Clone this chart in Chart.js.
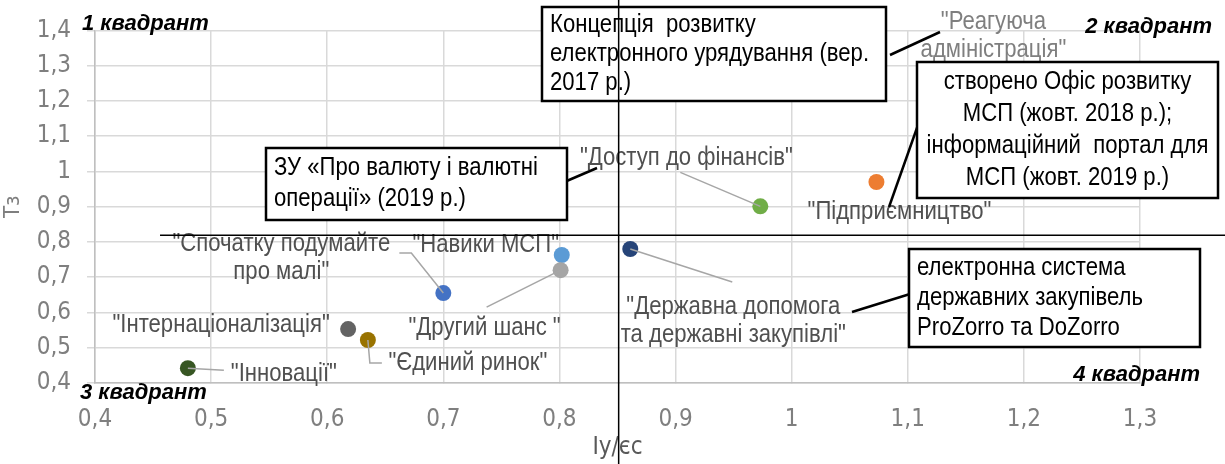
<!DOCTYPE html>
<html>
<head>
<meta charset="utf-8">
<script src="https://cdn.jsdelivr.net/npm/chart.js@4/dist/chart.umd.min.js"></script>
<style>
    body { margin: 0; background: #fff; }
    #wrap { width: 1225px; height: 464px; position: relative; }
</style>
</head>
<body>
<div id="wrap"><canvas id="quadChart"></canvas></div>
<script>
// Дані
const labels = [
    ['"Реагуюча', 'адміністрація"'],
    ['"Підприємництво"'],
    ['"Доступ до фінансів"'],
    ['"Державна допомога', 'та державні закупівлі"'],
    ['"Навики МСП"'],
    ['"Другий шанс "'],
    ['"Спочатку подумайте', 'про малі"'],
    ['"Інтернаціоналізація"'],
    ['"Єдиний ринок"'],
    ['"Інновації"']
];
const iyValues = [1.222, 1.073, 0.973, 0.861, 0.802, 0.801, 0.700, 0.618, 0.635, 0.480];
const tzValues = [1.272, 0.970, 0.901, 0.780, 0.763, 0.720, 0.655, 0.553, 0.522, 0.442];
const pointColors = ['#9e480e', '#ed7d31', '#70ad47', '#264478', '#5b9bd5', '#a5a5a5', '#4472c4', '#636363', '#997300', '#375623'];

const xTicks = [0.4, 0.5, 0.6, 0.7, 0.8, 0.9, 1.0, 1.1, 1.2, 1.3];
const yTicks = [0.4, 0.5, 0.6, 0.7, 0.8, 0.9, 1.0, 1.1, 1.2, 1.3, 1.4];
const crossX = 0.851;
const crossY = 0.819;

const quadrants = ['1 квадрант', '2 квадрант', '3 квадрант', '4 квадрант'];
const notes = [
    ['Концепція  розвитку', 'електронного урядування (вер.', '2017 р.)'],
    ['ЗУ «Про валюту і валютні', 'операції» (2019 р.)'],
    ['створено Офіс розвитку', 'МСП (жовт. 2018 р.);', 'інформаційний  портал для', 'МСП (жовт. 2019 р.)'],
    ['електронна система', 'державних закупівель', 'ProZorro та DoZorro']
];

// Оформлення підписів (зсув від точки, лінія-виноска)
const labelStyle = [
    { dx: -56, dy: -39, color: '#7f7f7f' },
    { dx: 23, dy: 30 },
    { dx: -74, dy: -48, leader: [[-80, -34]] },
    { dx: 103, dy: 72, leader: [[102, 33]] },
    { dx: -76, dy: -10 },
    { dx: -76, dy: 58, leader: [[-74, 37]] },
    { dx: -162, dy: -35, leader: [[-32, -40], [-44, -40]] },
    { dx: -127, dy: -4 },
    { dx: 100, dy: 23, leader: [[2, 23], [14, 23]] },
    { dx: 96, dy: 6, leader: [[36, 2]] }
];
const quadPos = [[82, 24, 'left'], [1212, 27, 'right'], [80, 393, 'left'], [1200, 375, 'right']];
const noteBoxes = [
    { x: 542, y: 7, w: 344, h: 94, align: 'left', lh: 29, line: [890, 55, 940, 32] },
    { x: 266, y: 148, w: 301, h: 72, align: 'left', lh: 31, line: [562, 183, 597, 168] },
    { x: 917, y: 62, w: 301, h: 136, align: 'center', lh: 32, line: [918, 125, 889, 207] },
    { x: 909, y: 249, w: 291, h: 98, align: 'left', lh: 30, line: [852, 312, 910, 294] }
];

const NARROW = "'Liberation Sans Narrow', 'Arial Narrow', 'DejaVu Sans Condensed', sans-serif";
const LABEL_FONT = "25px 'Liberation Sans', Arial, sans-serif";
const SQUEEZE = 0.885;
const fmt = v => String(Math.round(v * 10) / 10).replace('.', ',');

// вузький текст: Arial, стиснутий по горизонталі
function narrowText(c, text, x, y, align) {
    c.save();
    c.translate(x, y);
    c.scale(SQUEEZE, 1);
    c.textAlign = align;
    c.fillText(text, 0, 0);
    c.restore();
}

const overlay = {
    id: 'overlay',
    afterDraw(chart) {
        const c = chart.ctx;
        const xs = chart.scales.x, ys = chart.scales.y;
        const meta = chart.getDatasetMeta(0);
        c.save();

        // підписи точок
        c.font = LABEL_FONT;
        c.textBaseline = 'middle';
        meta.data.forEach((pt, i) => {
            const st = labelStyle[i];
            if (st.leader) {
                c.strokeStyle = '#a6a6a6';
                c.lineWidth = 1.5;
                c.beginPath();
                c.moveTo(pt.x, pt.y);
                st.leader.forEach(p => c.lineTo(pt.x + p[0], pt.y + p[1]));
                c.stroke();
            }
            const lines = labels[i];
            const lh = 28;
            const cy = pt.y + st.dy - (lines.length - 1) * lh / 2;
            c.fillStyle = st.color || '#505050';
            lines.forEach((t, k) => narrowText(c, t, pt.x + st.dx, cy + k * lh, 'center'));
        });

        // рамки з поясненнями
        noteBoxes.forEach((b, i) => {
            c.strokeStyle = '#000';
            c.lineWidth = 2.5;
            c.beginPath();
            c.moveTo(b.line[0], b.line[1]);
            c.lineTo(b.line[2], b.line[3]);
            c.stroke();
            c.fillStyle = '#fff';
            c.fillRect(b.x, b.y, b.w, b.h);
            c.strokeRect(b.x, b.y, b.w, b.h);
            c.fillStyle = '#000';
            const lines = notes[i];
            const top = b.y + b.h / 2 - (lines.length - 1) * b.lh / 2;
            const tx = b.align === 'center' ? b.x + b.w / 2 : b.x + 8;
            lines.forEach((t, k) => narrowText(c, t, tx, top + k * b.lh, b.align));
        });

        // квадранти
        c.font = "bold italic 22px 'Liberation Sans', Arial, sans-serif";
        c.fillStyle = '#000';
        quadrants.forEach((q, i) => {
            const p = quadPos[i];
            c.textAlign = p[2];
            c.fillText(q, p[0], p[1]);
        });

        // перехрестя
        const px = xs.getPixelForValue(crossX);
        const py = ys.getPixelForValue(crossY);
        c.strokeStyle = '#000';
        c.lineWidth = 1.5;
        c.beginPath();
        c.moveTo(px, 0);
        c.lineTo(px, chart.height);
        c.moveTo(xs.getPixelForValue(0.456), py);
        c.lineTo(chart.width, py);
        c.stroke();
        c.restore();
    }
};

const ctx = document.getElementById('quadChart');
new Chart(ctx, {
    type: 'scatter',
    data: {
        datasets: [{
            data: iyValues.map((x, i) => ({ x: x, y: tzValues[i] })),
            backgroundColor: pointColors,
            pointBackgroundColor: pointColors,
            pointBorderWidth: 0,
            pointRadius: 8
        }]
    },
    options: {
        responsive: true,
        maintainAspectRatio: false,
        animation: false,
        layout: { padding: { top: 30, right: 85, left: 0, bottom: 0 } },
        plugins: {
            legend: { display: false },
            tooltip: { enabled: false }
        },
        scales: {
            x: {
                type: 'linear',
                min: 0.4,
                max: 1.3,
                afterBuildTicks: s => { s.ticks = xTicks.map(v => ({ value: v })); },
                afterFit: s => { s.height = 81; },
                grid: { color: '#d9d9d9', lineWidth: 1.5, tickLength: 0 },
                border: { color: '#bfbfbf', width: 1.5 },
                ticks: {
                    padding: 22,
                    color: '#7f7f7f',
                    font: { family: NARROW, size: 24 },
                    callback: v => fmt(v),
                    maxRotation: 0
                },
                title: {
                    display: true,
                    text: 'Іу/єс',
                    color: '#595959',
                    font: { family: NARROW, size: 24 },
                    padding: { top: 0, bottom: 2 }
                }
            },
            y: {
                type: 'linear',
                min: 0.4,
                max: 1.4,
                afterBuildTicks: s => { s.ticks = yTicks.map(v => ({ value: v })); },
                afterFit: s => { s.width = 95; },
                grid: { color: '#d9d9d9', lineWidth: 1.5, tickLength: 8 },
                border: { color: '#bfbfbf', width: 1.5 },
                ticks: {
                    padding: 16,
                    color: '#7f7f7f',
                    font: { family: NARROW, size: 24 },
                    callback: v => fmt(v)
                },
                title: {
                    display: true,
                    text: 'Tз',
                    color: '#7f7f7f',
                    font: { family: NARROW, size: 22 },
                    padding: { top: 0, bottom: 0 }
                }
            }
        }
    },
    plugins: [overlay]
});
</script>
</body>
</html>
